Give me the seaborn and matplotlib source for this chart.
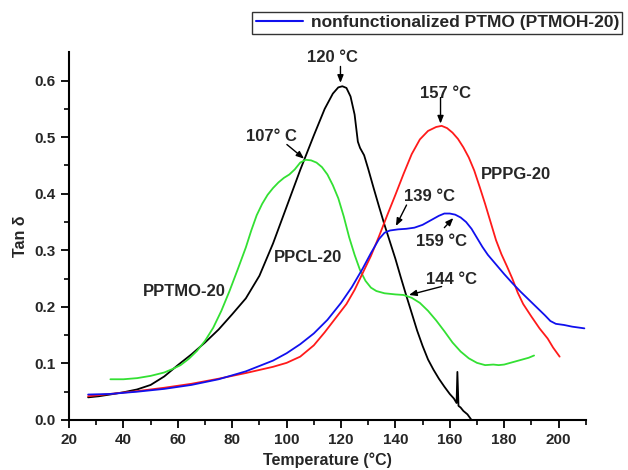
import numpy as np
import pandas as pd
import matplotlib
matplotlib.use("Agg")
import matplotlib.pyplot as plt
import seaborn as sns
from matplotlib.lines import Line2D

# ---------------- data ----------------
ppcl_x = [27, 31, 35, 40, 45, 50, 55, 60, 65, 70, 75, 80, 85, 90, 95, 100, 105, 110, 114, 117,
          119, 120.5, 122, 123.5, 125, 126.2, 127, 128.5, 130, 132, 134, 136, 138, 140, 142, 144,
          146, 148, 150, 152, 154, 156, 158, 160, 161.5, 162.5, 162.8, 163.2, 164, 165, 166.5, 168]
ppcl_y = [0.040, 0.042, 0.045, 0.049, 0.054, 0.062, 0.077, 0.097, 0.116, 0.137, 0.160, 0.187,
          0.215, 0.255, 0.312, 0.377, 0.442, 0.503, 0.550, 0.577, 0.588, 0.590, 0.587, 0.572,
          0.540, 0.492, 0.481, 0.468, 0.444, 0.410, 0.377, 0.345, 0.315, 0.285, 0.252, 0.220,
          0.189, 0.158, 0.131, 0.107, 0.089, 0.073, 0.059, 0.046, 0.038, 0.030, 0.085, 0.025,
          0.022, 0.016, 0.010, 0.0]

pptmo_x = [35.2, 40, 45, 50, 55, 58, 61, 64, 67, 70, 73, 76, 79, 82, 85, 87, 89, 91, 93, 95, 97,
           99, 101, 103, 105, 107, 109, 111, 113, 115, 117, 119, 121, 123, 125, 127, 129, 131,
           133, 136, 140, 143, 146, 149, 152, 155, 158, 161, 164, 167, 170, 173, 176, 178, 180,
           183, 186, 189, 191]
pptmo_y = [0.072, 0.072, 0.074, 0.078, 0.084, 0.090, 0.097, 0.108, 0.122, 0.140, 0.163, 0.193,
           0.228, 0.266, 0.305, 0.335, 0.362, 0.382, 0.398, 0.410, 0.420, 0.428, 0.434, 0.443,
           0.455, 0.460, 0.459, 0.455, 0.447, 0.434, 0.415, 0.392, 0.360, 0.323, 0.292, 0.265,
           0.246, 0.234, 0.228, 0.224, 0.222, 0.221, 0.216, 0.207, 0.193, 0.176, 0.157, 0.137,
           0.121, 0.109, 0.101, 0.097, 0.098, 0.097, 0.098, 0.102, 0.106, 0.110, 0.114]

pppg_x = [27, 35, 45, 55, 65, 75, 85, 95, 100, 105, 110, 114, 118, 122, 125, 128, 131, 134, 137,
          140, 143, 146, 149, 152, 155, 157, 159, 161, 163, 165, 167, 169, 171, 173, 175, 177,
          179, 181, 183, 185, 187, 190, 193, 196, 198, 200.4]
pppg_y = [0.042, 0.046, 0.051, 0.057, 0.064, 0.073, 0.083, 0.094, 0.101, 0.112, 0.132, 0.155,
          0.180, 0.205, 0.230, 0.260, 0.290, 0.325, 0.362, 0.398, 0.435, 0.470, 0.496, 0.511,
          0.518, 0.520, 0.516, 0.508, 0.497, 0.482, 0.464, 0.441, 0.412, 0.382, 0.350, 0.318,
          0.293, 0.272, 0.250, 0.225, 0.205, 0.183, 0.162, 0.144, 0.128, 0.112]

ptmoh_x = [27, 35, 45, 55, 65, 75, 85, 95, 100, 105, 110, 115, 120, 124, 128, 131, 134, 136, 138,
           141, 144, 147, 150, 153, 156, 158, 160, 162, 164, 166, 168, 170, 172, 174, 177, 180,
           183, 186, 189, 192, 195, 197, 199, 202, 205, 209.5]
ptmoh_y = [0.045, 0.046, 0.050, 0.055, 0.062, 0.072, 0.086, 0.105, 0.118, 0.134, 0.153, 0.177,
           0.207, 0.235, 0.268, 0.295, 0.320, 0.331, 0.335, 0.337, 0.338, 0.340, 0.345, 0.353,
           0.361, 0.365, 0.365, 0.363, 0.358, 0.350, 0.338, 0.322, 0.306, 0.292, 0.275, 0.258,
           0.242, 0.227, 0.213, 0.199, 0.185, 0.175, 0.170, 0.168, 0.165, 0.162]

legend_label = "nonfunctionalized PTMO (PTMOH-20)"
x_ticks = [20, 40, 60, 80, 100, 120, 140, 160, 180, 200]
y_ticks = [0.0, 0.1, 0.2, 0.3, 0.4, 0.5, 0.6]

# annotations: text, text position, arrow start, arrow tip
peak_notes = [
    ("120 °C", (116.7, 0.640), (119.8, 0.625), (119.8, 0.596)),
    ("157 °C", (158.5, 0.578), (156.6, 0.570), (156.6, 0.524)),
    ("107° C", (94.5, 0.501), (100.1, 0.487), (106.4, 0.462)),
    ("139 °C", (152.5, 0.395), (144.1, 0.380), (140.2, 0.343)),
    ("159 °C", (157.0, 0.316), (158.0, 0.340), (161.3, 0.357)),
    ("144 °C", (160.6, 0.248), (157.0, 0.236), (145.0, 0.221)),
]
curve_labels = [
    ("PPPG-20", (184.5, 0.434)),
    ("PPCL-20", (107.7, 0.288)),
    ("PPTMO-20", (62.4, 0.228)),
]

# ---------------- style ----------------
sns.set_style("ticks")
plt.rcParams["font.family"] = ["Liberation Sans", "DejaVu Sans"]
plt.rcParams["font.weight"] = "bold"
plt.rcParams["axes.labelweight"] = "bold"

fig = plt.figure(figsize=(6.28, 4.70), dpi=100)
ax = fig.add_axes([0.110, 0.1064, 0.8227, 0.7823])

series = [
    (ppcl_x, ppcl_y, "#000000"),
    (pptmo_x, pptmo_y, "#33e033"),
    (pppg_x, pppg_y, "#ff1a1a"),
    (ptmoh_x, ptmoh_y, "#1010ee"),
]
for xs, ys, c in series:
    df = pd.DataFrame({"T": xs, "tan": ys})
    sns.lineplot(data=df, x="T", y="tan", color=c, lw=1.3, ax=ax,
                 sort=False, estimator=None, legend=False)

ax.set_xlim(20, 210)
ax.set_ylim(0, 0.65)
ax.set_xticks(x_ticks)
ax.set_yticks(y_ticks)
ax.set_yticklabels([f"{v:.1f}" for v in y_ticks])
ax.set_xticks(np.arange(30, 211, 20), minor=True)
ax.set_yticks(np.arange(0.05, 0.65, 0.1), minor=True)
ax.tick_params(axis="both", which="major", length=6, width=1.3, labelsize=11, direction="out",
               color="black")
ax.tick_params(axis="both", which="minor", length=3.5, width=1.2, direction="out", color="black")
for lab in ax.get_xticklabels() + ax.get_yticklabels():
    lab.set_fontweight("bold")

sns.despine(ax=ax)
for s in ("left", "bottom"):
    ax.spines[s].set_linewidth(1.5)
    ax.spines[s].set_color("black")

ax.set_xlabel("Temperature (°C)", fontsize=11.5, fontweight="bold", labelpad=4)
ax.set_ylabel("Tan δ", fontsize=11.5, fontweight="bold", labelpad=5)

for txt, tpos, a0, a1 in peak_notes:
    ax.text(tpos[0], tpos[1], txt, fontsize=12, fontweight="bold", ha="center", va="center",
            clip_on=False)
    ax.annotate("", xy=a1, xytext=a0, annotation_clip=False,
                arrowprops=dict(arrowstyle="-|>,head_length=0.45,head_width=0.18",
                                color="black", lw=1.0, shrinkA=0, shrinkB=0))

for txt, pos in curve_labels:
    ax.text(pos[0], pos[1], txt, fontsize=12, fontweight="bold", ha="center", va="center")

handle = Line2D([], [], color="#1010ee", lw=1.5)
leg = fig.legend([handle], [legend_label], loc="upper right",
                 bbox_to_anchor=(0.991, 0.975), frameon=True, fancybox=False,
                 prop={"weight": "bold", "size": 12.5}, handlelength=2.7,
                 borderpad=0.2, handletextpad=0.45, borderaxespad=0)
leg.get_frame().set_edgecolor("black")
leg.get_frame().set_linewidth(1.0)

fig.savefig("out.png", dpi=100)
